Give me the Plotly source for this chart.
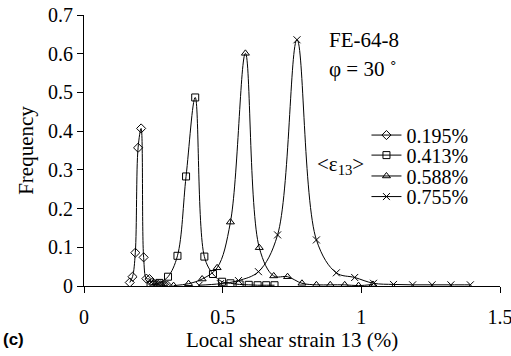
import plotly.graph_objects as go

# ---- data ----
x_0195 = [0.165, 0.175, 0.185, 0.195, 0.206, 0.215, 0.225, 0.236, 0.245, 0.253, 0.261, 0.269, 0.277, 0.285, 0.293, 0.301]
y_0195 = [0.009, 0.024, 0.086, 0.357, 0.407, 0.074, 0.019, 0.018, 0.008, 0.005, 0.004, 0.003, 0.002, 0.002, 0.001, 0.001]

x_0413 = [0.240, 0.272, 0.303, 0.337, 0.368, 0.401, 0.434, 0.465, 0.498, 0.528, 0.561, 0.594, 0.626, 0.657, 0.687]
y_0413 = [0.003, 0.008, 0.024, 0.078, 0.283, 0.487, 0.076, 0.031, 0.011, 0.007, 0.004, 0.003, 0.002, 0.002, 0.002]

x_0588 = [0.323, 0.377, 0.426, 0.480, 0.528, 0.582, 0.632, 0.684, 0.734, 0.786, 0.838, 0.888, 0.940, 0.990, 1.042]
y_0588 = [0.001, 0.006, 0.018, 0.047, 0.165, 0.601, 0.099, 0.026, 0.024, 0.007, 0.003, 0.003, 0.003, 0.001, 0.004]

x_0755 = [0.415, 0.492, 0.557, 0.629, 0.698, 0.768, 0.838, 0.910, 0.976, 1.044, 1.116, 1.185, 1.255, 1.323, 1.393]
y_0755 = [0.002, 0.006, 0.014, 0.037, 0.132, 0.636, 0.119, 0.034, 0.022, 0.007, 0.004, 0.003, 0.003, 0.003, 0.003]

series = [
    ("0.195%", x_0195, y_0195, "diamond-open"),
    ("0.413%", x_0413, y_0413, "square-open"),
    ("0.588%", x_0588, y_0588, "triangle-up-open"),
    ("0.755%", x_0755, y_0755, "x-thin-open"),
]

x_ticks = [0, 0.5, 1, 1.5]
x_tick_text = ["0", "0.5", "1", "1.5"]
y_ticks = [0, 0.1, 0.2, 0.3, 0.4, 0.5, 0.6, 0.7]
y_tick_text = ["0", "0.1", "0.2", "0.3", "0.4", "0.5", "0.6", "0.7"]

SERIF = "Liberation Serif, Times New Roman, serif"

# one legend box per series so the entries can sit as tightly as in the reference
legend_ids = ["legend", "legend2", "legend3", "legend4"]
legend_y = [0.557, 0.483, 0.406, 0.330]

fig = go.Figure()
for (name, xs, ys, sym), lid in zip(series, legend_ids):
    fig.add_trace(go.Scatter(
        x=xs, y=ys, name=name, mode="lines+markers", legend=lid,
        line=dict(color="black", width=1, shape="spline", smoothing=1),
        marker=dict(symbol=sym, size=7, color="black",
                    line=dict(color="black", width=1)),
    ))

legend_common = dict(x=0.679, xanchor="left", yanchor="middle",
                     bgcolor="rgba(0,0,0,0)", font=dict(size=20, family=SERIF),
                     itemwidth=30, borderwidth=0)
layout_legends = {lid: dict(y=ly, **legend_common) for lid, ly in zip(legend_ids, legend_y)}

fig.update_layout(
    width=511, height=356,
    margin=dict(l=84, r=11, t=15, b=70),
    paper_bgcolor="white", plot_bgcolor="white",
    font=dict(family=SERIF, size=20, color="black"),
    showlegend=True,
    xaxis=dict(range=[0, 1.5], tickvals=x_ticks, ticktext=x_tick_text,
               showgrid=False, zeroline=False, showline=True, automargin=False,
               linecolor="black", linewidth=1, ticks="outside", ticklen=6,
               tickcolor="black", ticklabelstandoff=7, ticklabeloverflow="allow",
               title=dict(text="Local shear strain 13 (%)", standoff=2,
                          font=dict(size=21, family=SERIF))),
    yaxis=dict(range=[0, 0.7], tickvals=y_ticks, ticktext=y_tick_text,
               showgrid=False, zeroline=False, showline=True, automargin=False,
               linecolor="black", linewidth=1, ticks="outside", ticklen=6,
               tickcolor="black", ticklabeloverflow="allow",
               title=dict(text="Frequency", standoff=8,
                          font=dict(size=21, family=SERIF))),
    **layout_legends,
)

fig.add_annotation(text="FE-64-8", xref="paper", yref="paper",
                   x=0.585, y=0.908, xanchor="left", yanchor="middle",
                   showarrow=False, font=dict(size=21, family=SERIF))
fig.add_annotation(text="φ = 30 ˚", xref="paper", yref="paper",
                   x=0.585, y=0.80, xanchor="left", yanchor="middle",
                   showarrow=False, font=dict(size=21, family=SERIF))
fig.add_annotation(text="<ε<sub>13</sub>>", xref="paper", yref="paper",
                   x=0.556, y=0.446, xanchor="left", yanchor="middle",
                   showarrow=False, font=dict(size=21, family=SERIF))
fig.add_annotation(text="<b>(c)</b>", xref="paper", yref="paper",
                   x=-0.2, y=-0.199, xanchor="left", yanchor="middle",
                   showarrow=False, font=dict(size=17, family="Liberation Sans, Arial, sans-serif"))

fig.write_html("out.html")
